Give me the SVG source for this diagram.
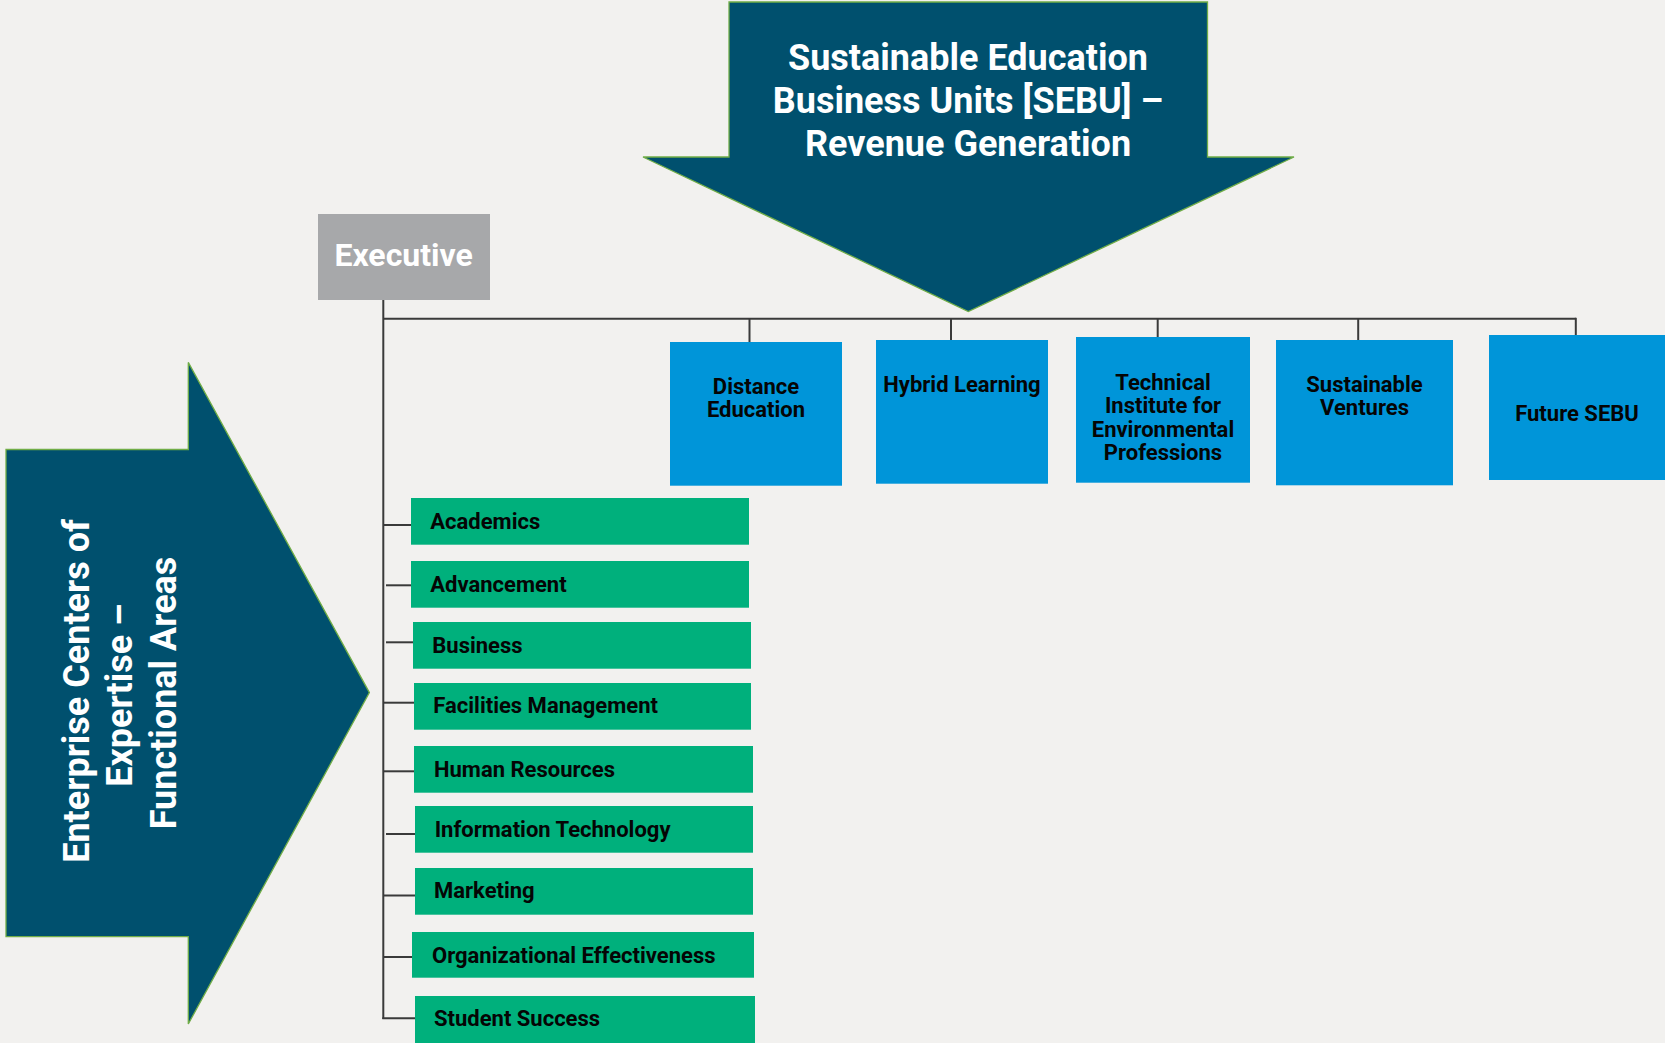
<svg xmlns="http://www.w3.org/2000/svg" width="1665" height="1043" viewBox="0 0 1665 1043">
<style>
.bg{fill:#f2f1ef}
.arrow{fill:#00506e;stroke:#70ad47;stroke-width:1.3}
.big{font-family:Roboto,"Liberation Sans",sans-serif;font-weight:700;font-size:36px;fill:#ffffff;text-anchor:middle}
.exec{fill:#a7a8aa}
.exect{font-family:Roboto,"Liberation Sans",sans-serif;font-weight:700;font-size:32px;fill:#ffffff;text-anchor:middle}
.blue{fill:#0095d9}
.bt{font-family:Roboto,"Liberation Sans",sans-serif;font-weight:700;font-size:22px;fill:#050505;text-anchor:middle}
.green{fill:#00b07c}
.gt{font-family:Roboto,"Liberation Sans",sans-serif;font-weight:700;font-size:22px;fill:#050505}
.conn line{stroke:#3a3a3a;stroke-width:2}
</style>
<rect class="bg" x="0" y="0" width="1665" height="1043"/>

<g id="sebu-arrow">
<polygon class="arrow" points="729,2 1207.5,2 1207.5,157 1294,157 968.3,311.5 643,157 729,157"/>
<text class="big" x="968" y="70">Sustainable Education</text>
<text class="big" x="968" y="113">Business Units [SEBU] –</text>
<text class="big" x="968" y="156">Revenue Generation</text>
</g>

<g id="enterprise-arrow">
<polygon class="arrow" points="6,449.5 188.3,449.5 188.3,362.4 369.4,692.6 188.3,1024 188.3,936.7 6,936.7"/>
<text class="big" transform="translate(89,691) rotate(-90)">Enterprise Centers of</text>
<text class="big" transform="translate(132.3,695) rotate(-90)">Expertise –</text>
<text class="big" transform="translate(175.6,693) rotate(-90)">Functional Areas</text>
</g>

<g class="conn" id="connectors">
<line x1="383.3" y1="299.5" x2="383.3" y2="1019"/>
<line x1="383.3" y1="318.8" x2="1576" y2="318.8"/>
<line x1="749.5" y1="318.8" x2="749.5" y2="342"/>
<line x1="951" y1="318.8" x2="951" y2="340"/>
<line x1="1157.7" y1="318.8" x2="1157.7" y2="337"/>
<line x1="1358.2" y1="318.8" x2="1358.2" y2="340"/>
<line x1="1575.8" y1="317.8" x2="1575.8" y2="335"/>
<line x1="383.3" y1="525" x2="411" y2="525"/>
<line x1="386" y1="585.3" x2="411" y2="585.3"/>
<line x1="386" y1="642.3" x2="413" y2="642.3"/>
<line x1="383.3" y1="702.7" x2="414" y2="702.7"/>
<line x1="383.3" y1="771.3" x2="414" y2="771.3"/>
<line x1="386" y1="834" x2="415" y2="834"/>
<line x1="383.3" y1="895.5" x2="415" y2="895.5"/>
<line x1="383" y1="957" x2="412" y2="957"/>
<line x1="382.3" y1="1018.3" x2="415" y2="1018.3"/>
</g>

<g id="executive">
<rect class="exec" x="318" y="214" width="172" height="86"/>
<text class="exect" x="403.6" y="266">Executive</text>
</g>

<g id="distance-education">
<rect class="blue" x="670" y="342" width="172" height="143.7"/>
<text class="bt" x="756" y="394">Distance</text>
<text class="bt" x="756" y="417.3">Education</text>
</g>
<g id="hybrid-learning">
<rect class="blue" x="876" y="340" width="172" height="143.7"/>
<text class="bt" x="962" y="391.7">Hybrid Learning</text>
</g>
<g id="technical-institute">
<rect class="blue" x="1076" y="337" width="174" height="145.7"/>
<text class="bt" x="1163" y="390">Technical</text>
<text class="bt" x="1163" y="413.3">Institute for</text>
<text class="bt" x="1163" y="436.7">Environmental</text>
<text class="bt" x="1163" y="460">Professions</text>
</g>
<g id="sustainable-ventures">
<rect class="blue" x="1276" y="340" width="177" height="145.3"/>
<text class="bt" x="1364.5" y="391.7">Sustainable</text>
<text class="bt" x="1364.5" y="415">Ventures</text>
</g>
<g id="future-sebu">
<rect class="blue" x="1489" y="335" width="176" height="145"/>
<text class="bt" x="1577" y="420.7">Future SEBU</text>
</g>

<g id="academics"><rect class="green" x="411" y="498" width="338" height="46.7"/><text class="gt" x="430.3" y="529">Academics</text></g>
<g id="advancement"><rect class="green" x="411" y="561" width="338" height="46.7"/><text class="gt" x="430.3" y="592">Advancement</text></g>
<g id="business"><rect class="green" x="413" y="622" width="338" height="46.7"/><text class="gt" x="432.3" y="652.7">Business</text></g>
<g id="facilities-management"><rect class="green" x="414" y="683" width="337" height="46.7"/><text class="gt" x="433.3" y="713.3">Facilities Management</text></g>
<g id="human-resources"><rect class="green" x="414" y="746" width="339" height="46.7"/><text class="gt" x="434" y="777.3">Human Resources</text></g>
<g id="information-technology"><rect class="green" x="415" y="806" width="338" height="46.7"/><text class="gt" x="434.7" y="837.3">Information Technology</text></g>
<g id="marketing"><rect class="green" x="415" y="868" width="338" height="46.7"/><text class="gt" x="434" y="898.3">Marketing</text></g>
<g id="organizational-effectiveness"><rect class="green" x="412" y="932" width="342" height="45.7"/><text class="gt" x="432" y="963.3">Organizational Effectiveness</text></g>
<g id="student-success"><rect class="green" x="415" y="996" width="340" height="47"/><text class="gt" x="434" y="1026">Student Success</text></g>
</svg>
